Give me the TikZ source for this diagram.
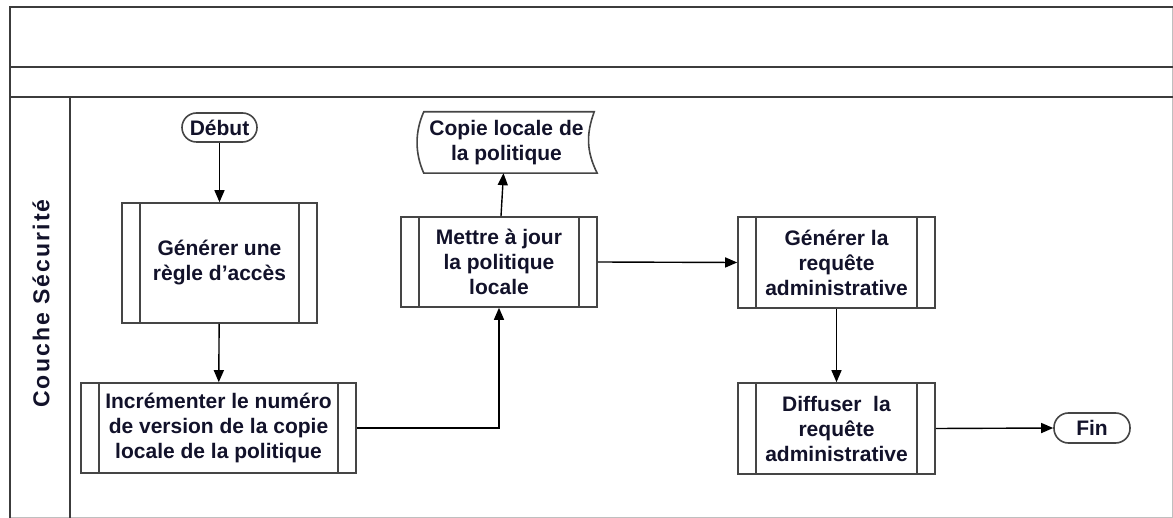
\documentclass[tikz,border=0pt]{standalone}
\usepackage{fontspec}
\setmainfont{Liberation Sans}
\newfontfamily\lanefont[LetterSpace=9]{Liberation Sans}
\usetikzlibrary{arrows.meta,calc}
\definecolor{frameline}{HTML}{3C3C3C}
\definecolor{boxline}{HTML}{454545}
\definecolor{inktext}{HTML}{12122A}
\tikzset{
  x=1pt, y=-1pt,
  every node/.style={font=\fontsize{21}{25}\selectfont\bfseries, text=inktext, align=center, inner sep=0pt},
  procbox/.style={draw=boxline, line width=1.6pt, fill=white, rectangle,
    path picture={
      \draw[boxline, line width=1.6pt]
        ($(path picture bounding box.north west)+(18,0)$) -- ($(path picture bounding box.south west)+(18,0)$)
        ($(path picture bounding box.north east)+(-18,0)$) -- ($(path picture bounding box.south east)+(-18,0)$);
    }},
  termbox/.style={draw=boxline, line width=1.6pt, fill=white, rounded corners=14.5pt},
  flow/.style={line width=1.4pt, -{Triangle[length=12pt,width=10pt]}},
  plain/.style={line width=1.4pt}
}
\begin{document}
\begin{tikzpicture}
\useasboundingbox (0,0) rectangle (1173,518);

% pool frame and lane header
\draw[black!25, line width=1pt] (10,517) -- (1172,517) -- (1172,7);
\draw[frameline, line width=2.8pt] (1173,7) -- (10,7) -- (10,518);
\draw[frameline, line width=2.2pt] (10,67) -- (1173,67);
\draw[frameline, line width=2.8pt] (10,97) -- (1173,97);
\draw[frameline, line width=1.8pt] (70,97) -- (70,518);
\node[rotate=90, font=\fontsize{23}{25}\selectfont\bfseries\lanefont] (lane) at (41,303.5) {Couche Sécurité};

% flow nodes
\node[termbox, minimum width=75pt, minimum height=29pt] (debut) at (219.5,127.5) {Début};
\node[procbox, minimum width=195pt, minimum height=120pt] (regle) at (219.5,263) {Générer une\\règle d’accès};
\node[procbox, minimum width=275pt, minimum height=90pt] (incr) at (218.5,428) {Incrémenter le numéro\\de version de la copie\\locale de la politique};
\node[procbox, minimum width=196pt, minimum height=90pt] (maj) at (499,262) {Mettre à jour\\la politique\\locale};
\node[minimum width=181pt, minimum height=61pt] (copie) at (506.5,142.5) {Copie locale de\\la politique};
\draw[boxline, line width=1.6pt, fill=white]
  ($(copie.north west)+(8,0)$) -- ($(copie.north east)+(-3,0)$)
  .. controls ($(copie.north east)+(-11,22)$) and ($(copie.south east)+(-11,-22)$) .. (copie.south east)
  -- ($(copie.south west)+(8,0)$)
  .. controls ($(copie.south west)+(-1,-20)$) and ($(copie.north west)+(-1,20)$) .. cycle;
\node at (copie.center) {Copie locale de\\la politique};
\node[procbox, minimum width=197pt, minimum height=91pt] (gen) at (836.5,262.5) {Générer la\\requête\\administrative};
\node[procbox, minimum width=197pt, minimum height=91pt] (diff) at (836.5,428.5) {Diffuser~ la\\requête\\administrative};
\node[termbox, minimum width=76pt, minimum height=30pt] (fin) at (1092,428) {Fin};

% connectors
\draw[flow] (debut) -- (regle);
\draw[flow] (regle) -- (incr);
\draw[flow] (incr.east) -| (maj.south);
\draw[flow] ([xshift=2pt]maj.north) -- ([xshift=-3pt]copie.south);
\draw[flow] (maj.east) -- (gen.west);
\draw[flow] (gen) -- (diff);
\draw[flow] (diff.east) -- (fin.west);
\end{tikzpicture}
\end{document}
